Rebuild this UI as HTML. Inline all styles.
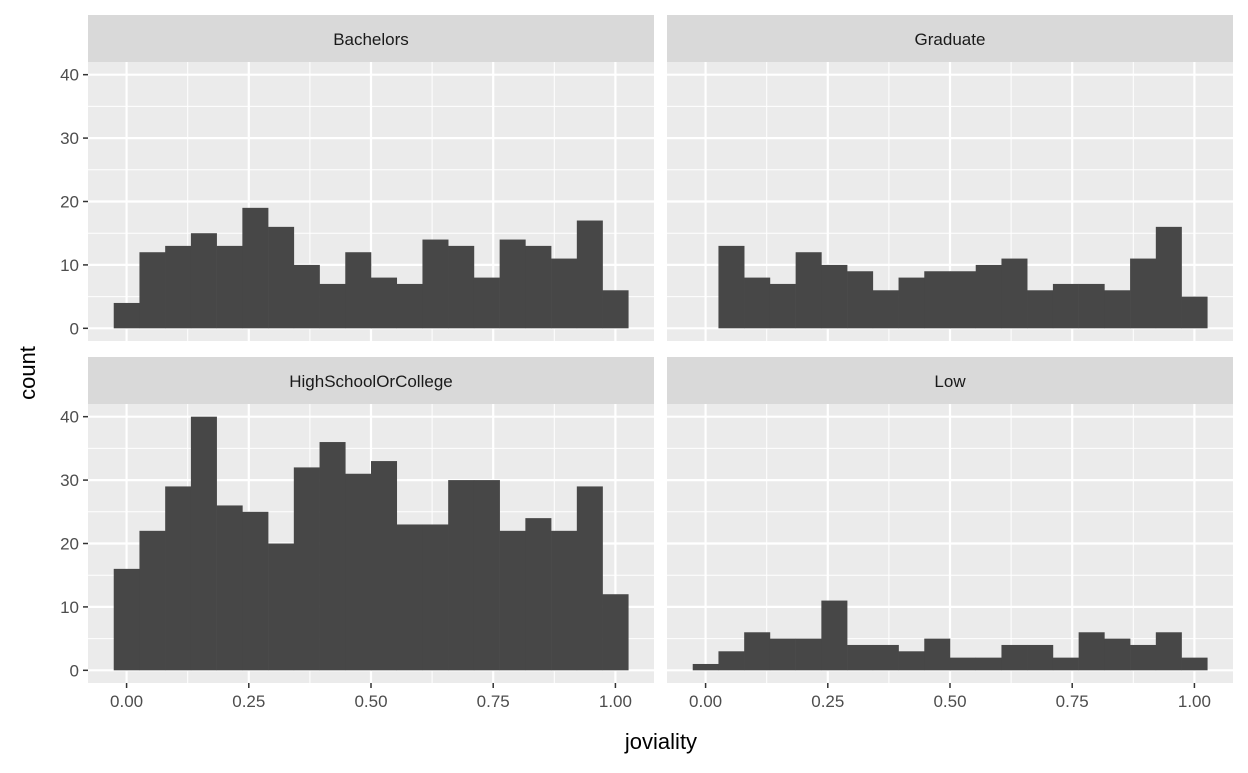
<!DOCTYPE html>
<html><head><meta charset="utf-8"><style>
body{margin:0;background:#fff;font-family:"Liberation Sans",Arial,sans-serif}
</style></head><body>
<svg id="c" width="1248" height="768" xmlns="http://www.w3.org/2000/svg"></svg>
<script>
const facetNames = ["Bachelors","Graduate","HighSchoolOrCollege","Low"];
const bachelors = [4,12,13,15,13,19,16,10,7,12,8,7,14,13,8,14,13,11,17,6];
const graduate = [0,13,8,7,12,10,9,6,8,9,9,10,11,6,7,7,6,11,16,5];
const highSchool = [16,22,29,40,26,25,20,32,36,31,33,23,23,30,30,22,24,22,29,12];
const low = [1,3,6,5,5,11,4,4,3,5,2,2,4,4,2,6,5,4,6,2];
const xTicks = [0,0.25,0.5,0.75,1];
const xTickLabels = ["0.00","0.25","0.50","0.75","1.00"];
const yTicks = [0,10,20,30,40];
const series=[bachelors,graduate,highSchool,low];
const NS="http://www.w3.org/2000/svg", svg=document.getElementById('c');
function mk(t,a,p){const e=document.createElementNS(NS,t);for(const k in a)e.setAttribute(k,a[k]);(p||svg).appendChild(e);return e;}
const nb=20, bw=1/(nb-1), dmin=-bw/2, dmax=1+bw/2, ex=(dmax-dmin)*0.05;
const xmin=dmin-ex, xmax=dmax+ex;
const panels=[{x:88,y:62,s:15},{x:667,y:62,s:15},{x:88,y:404,s:357},{x:667,y:404,s:357}];
const PW=566, PH=279, ymin=-2, ymax=42;
panels.forEach((p,i)=>{
  const X=v=>p.x+(v-xmin)/(xmax-xmin)*PW;
  const Y=v=>p.y+PH-(v-ymin)/(ymax-ymin)*PH;
  const g=mk('g',{});
  
  
  const strip=mk('rect',{x:p.x,y:p.s,width:PW,height:p.y-p.s,fill:'#d9d9d9'},g);
  
  
  const st=mk('text',{x:p.x+PW/2,y:p.s+30,'text-anchor':'middle','font-size':'17',fill:'#1a1a1a'},g);
  st.textContent=facetNames[i];
  
  
  const bg=mk('rect',{x:p.x,y:p.y,width:PW,height:PH,fill:'#ebebeb'},g);
  
  
  for(let k=0;k<xTicks.length-1;k++){const v=(xTicks[k]+xTicks[k+1])/2;mk('line',{x1:X(v),x2:X(v),y1:p.y,y2:p.y+PH,stroke:'#fff','stroke-width':1},g);}
  for(let k=0;k<yTicks.length-1;k++){const v=(yTicks[k]+yTicks[k+1])/2;mk('line',{x1:p.x,x2:p.x+PW,y1:Y(v),y2:Y(v),stroke:'#fff','stroke-width':1},g);}
  xTicks.forEach(v=>mk('line',{x1:X(v),x2:X(v),y1:p.y,y2:p.y+PH,stroke:'#fff','stroke-width':2.2},g));
  yTicks.forEach(v=>mk('line',{x1:p.x,x2:p.x+PW,y1:Y(v),y2:Y(v),stroke:'#fff','stroke-width':2.2},g));
  series[i].forEach((c,j)=>{
    if(c<=0)return;
    const x0=X(dmin+j*bw), x1=X(dmin+(j+1)*bw);
    const r=mk('rect',{x:x0,y:Y(c),width:x1-x0+0.3,height:Y(0)-Y(c),fill:'#474747'},g);
    
    
  });
  if(i%2===0){
    yTicks.forEach(v=>{
      mk('line',{x1:p.x-5,x2:p.x,y1:Y(v),y2:Y(v),stroke:'#333','stroke-width':1.5},g);
      const t=mk('text',{x:p.x-9,y:Y(v)+6,'text-anchor':'end','font-size':'17',fill:'#4d4d4d'},g);
      t.textContent=v;
      
      
    });
  }
  if(i>=2){
    xTicks.forEach((v,k)=>{
      mk('line',{x1:X(v),x2:X(v),y1:p.y+PH,y2:p.y+PH+5,stroke:'#333','stroke-width':1.5},g);
      const t=mk('text',{x:X(v),y:p.y+PH+24,'text-anchor':'middle','font-size':'17',fill:'#4d4d4d'},g);
      t.textContent=xTickLabels[k];
      
      
    });
  }
});
const xl=mk('text',{x:661,y:749,'text-anchor':'middle','font-size':'22',fill:'#000'});
xl.textContent='joviality';


const yl=mk('text',{x:0,y:0,'text-anchor':'middle','font-size':'22',fill:'#000',transform:'translate(35,373) rotate(-90)'});
yl.textContent='count';


</script>
</body></html>
